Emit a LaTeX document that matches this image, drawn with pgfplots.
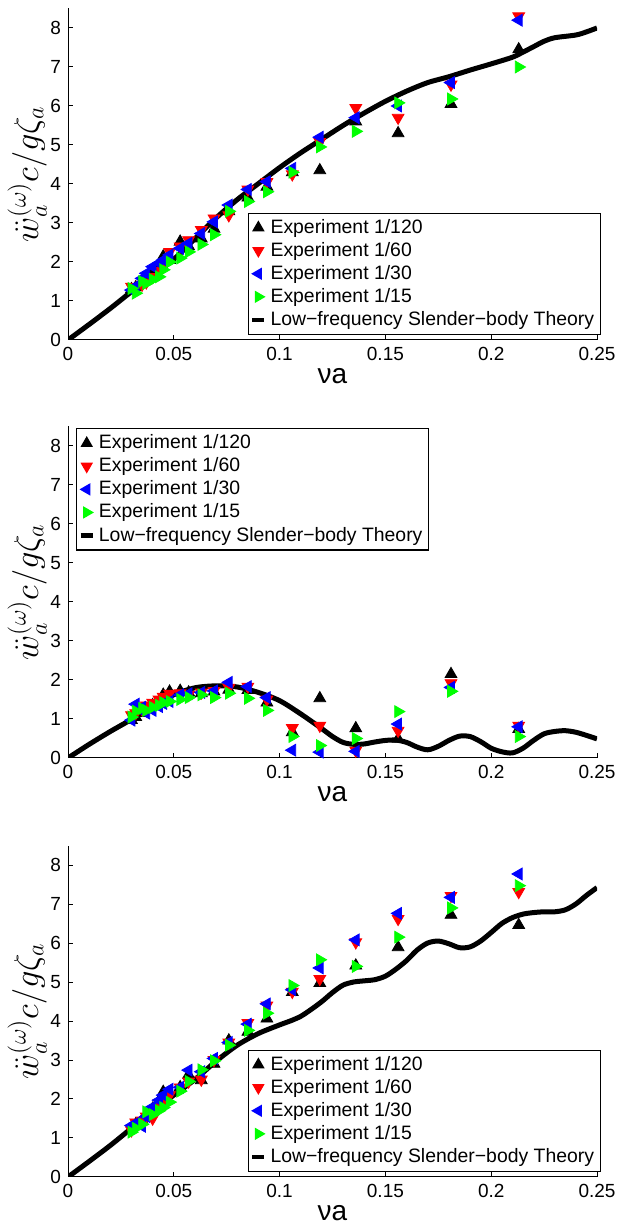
\documentclass[border=0pt]{standalone}
\usepackage{fontspec}
\setmainfont{Liberation Sans}
\usepackage{pgfplots}
\pgfplotsset{compat=1.18}
\usepackage{pgfplotstable}

\pgfplotstableread{
x k r b g
0.030 1.30 1.37 1.28 1.32
0.032 1.35 1.33 1.38 1.20
0.035 1.50 1.42 1.58 1.50
0.037 1.60 1.48 1.71 1.45
0.040 1.75 1.62 1.88 1.55
0.043 1.92 1.78 1.97 1.62
0.045 2.14 1.95 2.05 1.80
0.048 2.05 2.26 2.18 2.00
0.053 2.52 2.40 2.35 2.10
0.057 2.40 2.56 2.48 2.26
0.063 2.60 2.82 2.73 2.45
0.069 2.85 3.12 3.03 2.70
0.076 3.30 3.20 3.46 3.30
0.085 3.65 3.86 3.86 3.55
0.094 3.93 4.05 4.06 3.80
0.106 4.30 4.25 4.40 4.30
0.119 4.35 5.08 5.20 4.95
0.136 5.60 5.95 5.70 5.35
0.156 5.30 5.70 6.00 6.08
0.181 6.05 6.55 6.60 6.18
0.213 7.45 8.30 8.20 7.00
}\expA

\pgfplotstableread{
x y
0 0
0.01 0.40
0.02 0.81
0.03 1.24
0.04 1.65
0.05 2.07
0.06 2.60
0.07 3.13
0.08 3.60
0.09 4.01
0.10 4.42
0.11 4.80
0.12 5.15
0.13 5.50
0.14 5.82
0.15 6.12
0.16 6.38
0.17 6.60
0.18 6.75
0.19 6.92
0.20 7.08
0.21 7.25
0.215 7.38
0.22 7.52
0.225 7.66
0.23 7.75
0.24 7.82
0.245 7.90
0.25 8.00
}\thA

\pgfplotstableread{
x k r b g
0.030 0.97 1.10 0.97 1.05
0.032 1.05 1.15 1.38 1.20
0.035 1.15 1.25 1.30 1.27
0.037 1.25 1.35 1.15 1.22
0.040 1.35 1.42 1.22 1.30
0.043 1.45 1.50 1.32 1.35
0.045 1.62 1.57 1.40 1.42
0.048 1.70 1.65 1.45 1.45
0.053 1.72 1.66 1.62 1.50
0.057 1.68 1.62 1.65 1.55
0.063 1.66 1.68 1.68 1.62
0.069 1.70 1.72 1.72 1.55
0.076 1.75 1.80 1.94 1.66
0.085 1.74 1.83 1.83 1.53
0.094 1.42 1.50 1.55 1.22
0.106 0.66 0.77 0.20 0.55
0.119 1.53 0.83 0.15 0.32
0.136 0.76 0.19 0.17 0.50
0.156 0.49 0.70 0.87 1.19
0.181 2.15 1.92 1.81 1.71
0.213 0.74 0.83 0.80 0.55
}\expB

\pgfplotstableread{
x y
0 0
0.01 0.35
0.02 0.68
0.03 0.99
0.04 1.32
0.05 1.62
0.06 1.80
0.07 1.85
0.08 1.82
0.09 1.68
0.10 1.47
0.11 1.13
0.12 0.75
0.125 0.55
0.13 0.40
0.135 0.35
0.14 0.36
0.145 0.41
0.15 0.45
0.155 0.46
0.16 0.40
0.165 0.28
0.17 0.21
0.175 0.30
0.18 0.45
0.185 0.56
0.19 0.55
0.195 0.42
0.20 0.25
0.205 0.16
0.21 0.13
0.215 0.25
0.22 0.45
0.225 0.62
0.23 0.68
0.235 0.70
0.24 0.66
0.245 0.58
0.25 0.49
}\thB

\pgfplotstableread{
x k r b g
0.030 1.25 1.20 1.32 1.15
0.032 1.35 1.40 1.38 1.25
0.035 1.45 1.45 1.30 1.35
0.037 1.55 1.55 1.55 1.67
0.040 1.75 1.50 1.80 1.60
0.043 1.95 1.90 1.97 1.70
0.045 2.18 1.95 2.10 1.78
0.048 2.15 2.10 2.25 1.92
0.053 2.30 2.30 2.30 2.20
0.057 2.62 2.45 2.74 2.45
0.063 2.48 2.50 2.70 2.75
0.069 2.90 3.00 3.04 2.98
0.076 3.50 3.45 3.45 3.38
0.085 3.72 3.95 3.92 3.76
0.094 4.06 4.40 4.44 4.20
0.106 4.74 4.75 4.80 4.91
0.119 4.97 5.08 5.36 5.57
0.136 5.42 6.02 6.08 5.40
0.156 5.89 6.62 6.76 6.15
0.181 6.72 7.21 7.17 6.90
0.213 6.46 7.31 7.77 7.47
}\expC

\pgfplotstableread{
x y
0 0
0.01 0.40
0.02 0.81
0.03 1.25
0.04 1.68
0.05 2.10
0.06 2.50
0.07 2.97
0.08 3.38
0.09 3.68
0.10 3.90
0.105 4.00
0.11 4.12
0.115 4.30
0.12 4.50
0.125 4.73
0.13 4.92
0.135 5.00
0.14 5.03
0.145 5.06
0.15 5.15
0.155 5.33
0.16 5.55
0.165 5.82
0.17 6.00
0.175 6.05
0.18 5.98
0.185 5.88
0.19 5.90
0.195 6.05
0.20 6.27
0.205 6.50
0.21 6.65
0.215 6.74
0.22 6.78
0.225 6.80
0.23 6.80
0.235 6.85
0.24 7.00
0.245 7.22
0.25 7.42
}\thC

\pgfplotsset{
  myaxis/.style={
    scale only axis, width=264.5pt, height=165.75pt,
    xmin=0, xmax=0.25, ymin=0, ymax=8.5,
    axis x line*=bottom, axis y line*=left,
    axis line style={-, line width=0.5pt},
    xtick={0,0.05,0.1,0.15,0.2,0.25},
    xticklabels={0,0.05,0.1,0.15,0.2,0.25},
    ytick={0,1,2,3,4,5,6,7,8},
    tick align=inside, major tick length=2.5pt,
    tick style={black, line width=0.5pt},
    ticklabel style={font=\fontsize{9.5}{11}\selectfont},
    /pgf/number format/assume math mode=true,
    xlabel={νa},
    ylabel={$\ddot{w}_a^{(\omega)}c/g\zeta_a$},
    every axis x label/.style={font=\fontsize{14}{16}\selectfont, at={(axis description cs:0.5,-0.13)}, anchor=base},
    every axis y label/.style={font=\fontsize{17}{20}\selectfont, at={(axis description cs:-0.077,0.5)}, rotate=90, anchor=center},
    legend cell align=left,
    legend style={font=\fontsize{9.7}{10}\selectfont, draw=black, line width=0.6pt, fill=white,
      inner xsep=1pt, inner ysep=1pt, row sep=-1pt},
  },
  mk/.style={only marks, mark=triangle*, mark size=3.4pt, color=#1,
    legend image code/.code={\draw[##1, mark size=3pt] plot coordinates {(3pt,0pt)};}},
  th/.style={black, line width=2.5pt, smooth, line join=round,
    legend image code/.code={\draw[##1, line width=2.2pt] (0pt,0pt) -- (6pt,0pt);}},
}

\begin{document}
\begin{tikzpicture}
\useasboundingbox (0,0) rectangle (314.5pt,612pt);
% top
\begin{axis}[myaxis, at={(34pt,442pt)}, anchor=south west,
  legend style={at={(axis description cs:1.007,0.015)}, anchor=south east}]
\addplot[mk=black] table[x=x,y=k] {\expA};
\addplot[mk=red, mark options={rotate=180}] table[x=x,y=r] {\expA};
\addplot[mk=blue, mark options={rotate=90}] table[x=x,y=b] {\expA};
\addplot[mk=green, mark options={rotate=270}] table[x=x,y=g] {\expA};
\addplot[th] table[x=x,y=y] {\thA};
\legend{Experiment 1/120, Experiment 1/60, Experiment 1/30, Experiment 1/15, Low−frequency Slender−body Theory}
\end{axis}
% middle
\begin{axis}[myaxis, at={(34pt,233pt)}, anchor=south west,
  legend style={at={(axis description cs:0.015,0.995)}, anchor=north west}]
\addplot[mk=black] table[x=x,y=k] {\expB};
\addplot[mk=red, mark options={rotate=180}] table[x=x,y=r] {\expB};
\addplot[mk=blue, mark options={rotate=90}] table[x=x,y=b] {\expB};
\addplot[mk=green, mark options={rotate=270}] table[x=x,y=g] {\expB};
\addplot[th] table[x=x,y=y] {\thB};
\legend{Experiment 1/120, Experiment 1/60, Experiment 1/30, Experiment 1/15, Low−frequency Slender−body Theory}
\end{axis}
% bottom
\begin{axis}[myaxis, at={(34pt,23.5pt)}, anchor=south west,
  legend style={at={(axis description cs:1.007,0.015)}, anchor=south east}]
\addplot[mk=black] table[x=x,y=k] {\expC};
\addplot[mk=red, mark options={rotate=180}] table[x=x,y=r] {\expC};
\addplot[mk=blue, mark options={rotate=90}] table[x=x,y=b] {\expC};
\addplot[mk=green, mark options={rotate=270}] table[x=x,y=g] {\expC};
\addplot[th] table[x=x,y=y] {\thC};
\legend{Experiment 1/120, Experiment 1/60, Experiment 1/30, Experiment 1/15, Low−frequency Slender−body Theory}
\end{axis}
\end{tikzpicture}
\end{document}
